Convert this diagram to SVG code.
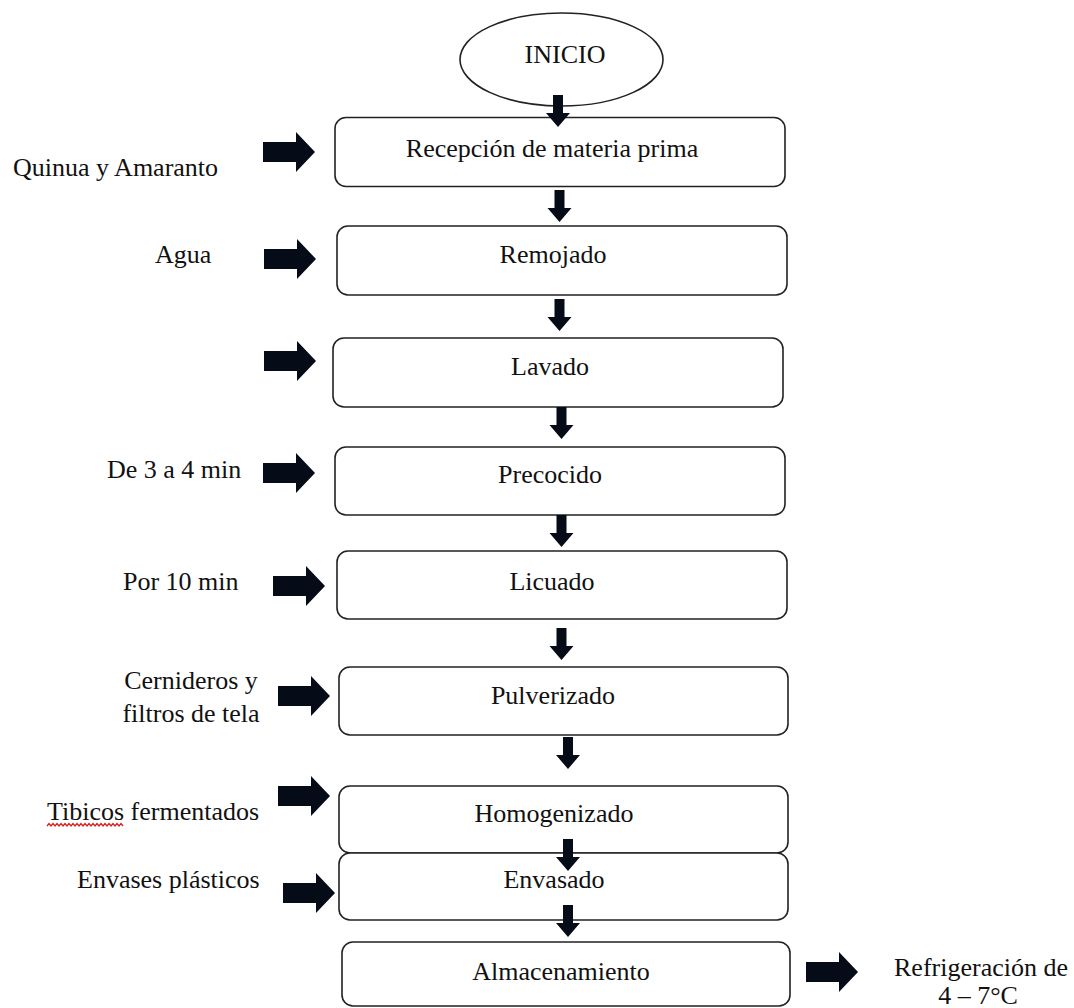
<svg xmlns="http://www.w3.org/2000/svg" width="1074" height="1008" viewBox="0 0 1074 1008">
<defs>
<style>
.bx{fill:#fff;stroke:#222;stroke-width:1.6}
.t{font-family:"Liberation Serif","Times New Roman",serif;font-size:26px;fill:#111}
.m{text-anchor:middle}
.ar{fill:#060b18}
</style>
<path id="ra" d="M0,-10 H33 V-20 L52,0 L33,20 V10 H0 Z"/>
<path id="da" d="M-5,0 H5 V18 H12 L0,32 L-12,18 H-5 Z"/>
</defs>
<rect width="1074" height="1008" fill="#fff"/>

<g id="inicio">
<ellipse class="bx" cx="561.5" cy="59.5" rx="101.5" ry="46.5"/>
<text class="t m" x="565" y="63">INICIO</text>
</g>
<g id="recepcion">
<rect class="bx" x="335" y="117.5" width="450" height="69" rx="11"/>
<text class="t m" x="552" y="157">Recepción de materia prima</text>
</g>
<g id="remojado">
<rect class="bx" x="337" y="226" width="450" height="69" rx="11"/>
<text class="t m" x="553" y="263">Remojado</text>
</g>
<g id="lavado">
<rect class="bx" x="333" y="338" width="450" height="69" rx="11"/>
<text class="t m" x="550" y="375">Lavado</text>
</g>
<g id="precocido">
<rect class="bx" x="335" y="447" width="450" height="68" rx="11"/>
<text class="t m" x="550" y="483">Precocido</text>
</g>
<g id="licuado">
<rect class="bx" x="337" y="551" width="450" height="68" rx="11"/>
<text class="t m" x="552" y="590">Licuado</text>
</g>
<g id="pulverizado">
<rect class="bx" x="339" y="667" width="449" height="68" rx="11"/>
<text class="t m" x="553" y="704">Pulverizado</text>
</g>
<g id="homogenizado">
<rect class="bx" x="339" y="786" width="449" height="67" rx="11"/>
<text class="t m" x="554" y="822">Homogenizado</text>
</g>
<g id="envasado">
<rect class="bx" x="339" y="853" width="449" height="67" rx="11"/>
<text class="t m" x="554" y="888">Envasado</text>
</g>
<g id="almacenamiento">
<rect class="bx" x="342" y="942" width="448" height="64" rx="11"/>
<text class="t m" x="561" y="980">Almacenamiento</text>
</g>

<g id="labels">
<text class="t" x="13" y="176">Quinua y Amaranto</text>
<text class="t" x="155" y="263">Agua</text>
<text class="t" x="107" y="478">De 3 a 4 min</text>
<text class="t" x="123" y="590">Por 10 min</text>
<text class="t m" x="191" y="689">Cernideros y</text>
<text class="t m" x="191" y="722">filtros de tela</text>
<text class="t" x="47" y="820">Tibicos fermentados</text>
<path d="M47,826 l2,-2.5 l2,2.5 l2,-2.5 l2,2.5 l2,-2.5 l2,2.5 l2,-2.5 l2,2.5 l2,-2.5 l2,2.5 l2,-2.5 l2,2.5 l2,-2.5 l2,2.5 l2,-2.5 l2,2.5 l2,-2.5 l2,2.5 l2,-2.5 l2,2.5 l2,-2.5 l2,2.5 l2,-2.5 l2,2.5 l2,-2.5 l2,2.5 l2,-2.5 l2,2.5 l2,-2.5 l2,2.5 l2,-2.5 l2,2.5 l2,-2.5 l2,2.5 l2,-2.5 l2,2.5 l2,-2.5 l2,2.5" fill="none" stroke="#d81e1e" stroke-width="1.3"/>
<text class="t" x="77" y="888">Envases plásticos</text>
<text class="t m" x="981" y="976">Refrigeración de</text>
<text class="t m" x="978" y="1004">4 – 7°C</text>
</g>

<g id="connectors" class="ar">
<use href="#da" x="558" y="95"/>
<use href="#da" x="559.5" y="190"/>
<use href="#da" x="559.5" y="299"/>
<use href="#da" x="561.5" y="407"/>
<use href="#da" x="561.5" y="515"/>
<use href="#da" x="561.5" y="628"/>
<use href="#da" x="568" y="737"/>
<use href="#da" x="568" y="839"/>
<use href="#da" x="568" y="905"/>
<use href="#ra" x="263" y="152"/>
<use href="#ra" x="264" y="259"/>
<use href="#ra" x="264" y="361"/>
<use href="#ra" x="263" y="473"/>
<use href="#ra" x="273" y="586"/>
<use href="#ra" x="278" y="696"/>
<use href="#ra" x="278" y="796"/>
<use href="#ra" x="283" y="893"/>
<use href="#ra" x="806" y="972"/>
</g>
</svg>
